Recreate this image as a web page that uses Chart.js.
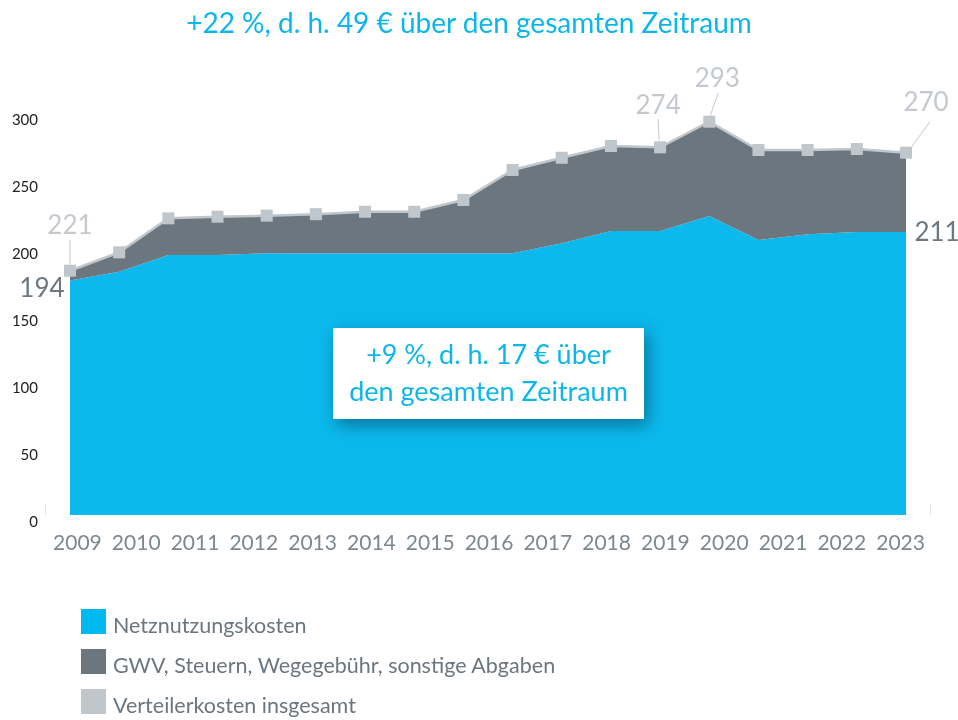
<!DOCTYPE html>
<html>
<head>
<meta charset="utf-8">
<script src="https://cdn.jsdelivr.net/npm/chart.js@4"></script>
<style>
  html, body { margin: 0; padding: 0; background: #fff; }
  #wrap { position: relative; width: 958px; height: 720px; font-family: Lato, "Noto Sans", sans-serif; }
  #c { position: absolute; left: 0; top: 0; }
  #title { position: absolute; left: 0; width: 938px; top: 5px; text-align: center; color: #0db6ea; font-size: 28px; }
  #box { position: absolute; left: 333px; top: 328px; width: 311px; height: 91px; background: #fff;
         box-shadow: 4px 6px 16px rgba(0,60,90,0.55); color: #0db6ea; font-size: 27px; text-align: center;
         line-height: 37px; padding-top: 7px; box-sizing: border-box; white-space: nowrap; }
  .lg { position: absolute; left: 81px; height: 25px; }
  .lg span.sw { position: absolute; left: 0; top: 0; width: 25px; height: 25px; }
  .lg span.tx { position: absolute; left: 32px; top: 3px; white-space: nowrap; font-size: 21.5px; color: #6b767e; }
</style>
</head>
<body>
<div id="wrap">
  <canvas id="c" width="958" height="720"></canvas>
  <div id="title">+22 %, d. h. 49 € über den gesamten Zeitraum</div>
  <div id="box">+9 %, d. h. 17 € über<br>den gesamten Zeitraum</div>
  <div class="lg" style="top:609px"><span class="sw" style="background:#00b9ee"></span><span class="tx">Netznutzungskosten</span></div>
  <div class="lg" style="top:649px"><span class="sw" style="background:#6b767e"></span><span class="tx">GWV, Steuern, Wegegebühr, sonstige Abgaben</span></div>
  <div class="lg" style="top:689px"><span class="sw" style="background:#bfc6cc"></span><span class="tx">Verteilerkosten insgesamt</span></div>
</div>
<script>
// Year tick labels
const years = ['2009','2010','2011','2012','2013','2014','2015','2016','2017','2018','2019','2020','2021','2022','2023'];
// Data points (18 observations across the period)
const pointIndex = [0,1,2,3,4,5,6,7,8,9,10,11,12,13,14,15,16,17];
const netznutzung = [175, 181.6, 194, 194, 195.3, 195.3, 195.3, 195.3, 195.3, 195.3, 202.8, 211.9, 211.9, 223.1, 205.2, 209.5, 211.2, 211.2];
const verteilerGesamt = [182.3, 196, 221.4, 222.6, 223.4, 224.5, 226.3, 226.3, 235.1, 257.5, 266.6, 275.4, 274.4, 293.5, 272.4, 272.4, 273.1, 270.4];
const yTicks = [0, 50, 100, 150, 200, 250, 300];
// Annotated values
const annotations = [
  { ds: 2, i: 0,  text: '221', color: '#c3c9ce', dx: 0,   dy: -45, lead: [0, -31, 0, -6] },
  { ds: 0, i: 0,  text: '194', color: '#6c777f', dx: -28, dy: 8,   lead: null },
  { ds: 2, i: 12, text: '274', color: '#c3c9ce', dx: -2,  dy: -42, lead: [-2, -28, -1, -7] },
  { ds: 2, i: 13, text: '293', color: '#c3c9ce', dx: 8,   dy: -43, lead: [9, -29, 1, -6] },
  { ds: 2, i: 17, text: '270', color: '#c3c9ce', dx: 20,  dy: -50, lead: [24, -31, 5, -5] },
  { ds: 0, i: 17, text: '211', color: '#6c777f', dx: 31,  dy: 1,   lead: null }
];

const BLUE = '#0cb9ec', DARK = '#6b767e', LIGHT = '#bfc6cc';

const annPlugin = {
  id: 'ann',
  afterDatasetsDraw(chart) {
    const ctx = chart.ctx;
    const xs = chart.scales.xd, ys = chart.scales.y;
    ctx.save();
    // small edge marks of the axis
    ctx.strokeStyle = '#e3e6e8'; ctx.lineWidth = 1;
    [chart.chartArea.left - 3, chart.chartArea.right].forEach(x => {
      ctx.beginPath(); ctx.moveTo(x + 0.5, ys.getPixelForValue(0) - 11); ctx.lineTo(x + 0.5, ys.getPixelForValue(0)); ctx.stroke();
    });
    annotations.forEach(a => {
      const val = a.ds === 0 ? netznutzung[a.i] : verteilerGesamt[a.i];
      const px = xs.getPixelForValue(pointIndex[a.i]);
      const py = ys.getPixelForValue(val);
      if (a.lead) {
        ctx.strokeStyle = '#c3c9ce'; ctx.lineWidth = 1;
        ctx.beginPath();
        ctx.moveTo(px + a.lead[0], py + a.lead[1]);
        ctx.lineTo(px + a.lead[2], py + a.lead[3]);
        ctx.stroke();
      }
      ctx.fillStyle = a.color;
      ctx.font = '26px Lato, "Noto Sans", sans-serif';
      ctx.textAlign = 'center';
      ctx.textBaseline = 'middle';
      ctx.fillText(a.text, px + a.dx, py + a.dy);
    });
    ctx.restore();
  }
};

new Chart(document.getElementById('c'), {
  type: 'line',
  data: {
    datasets: [
      { label: 'Netznutzungskosten', data: pointIndex.map((x, k) => ({ x, y: netznutzung[k] })),
        xAxisID: 'xd', yAxisID: 'y', fill: 'origin', backgroundColor: BLUE, borderWidth: 0, pointRadius: 0, tension: 0, order: 3 },
      { label: 'GWV, Steuern, Wegegebühr, sonstige Abgaben', data: pointIndex.map((x, k) => ({ x, y: verteilerGesamt[k] })),
        xAxisID: 'xd', yAxisID: 'y', fill: '-1', backgroundColor: DARK, borderWidth: 0, pointRadius: 0, tension: 0, order: 2 },
      { label: 'Verteilerkosten insgesamt', data: pointIndex.map((x, k) => ({ x, y: verteilerGesamt[k] })),
        xAxisID: 'xd', yAxisID: 'y', fill: false, borderColor: LIGHT, borderWidth: 2.5, pointStyle: 'rect',
        pointRadius: 8.5, pointBackgroundColor: LIGHT, pointBorderWidth: 0, tension: 0, order: 1 }
    ]
  },
  options: {
    responsive: false,
    animation: false,
    layout: { padding: { top: 113, right: 28, bottom: 165, left: 0 } },
    plugins: { legend: { display: false }, tooltip: { enabled: false } },
    scales: {
      x: {
        type: 'category', labels: years, offset: true, position: 'bottom',
        grid: { display: false, drawTicks: false }, border: { display: false },
        ticks: { color: '#7d878e', font: { family: 'Lato, "Noto Sans", sans-serif', size: 21 }, padding: 16, maxRotation: 0, autoSkip: false },
        afterFit(s) { s.height = 40; }
      },
      xd: { type: 'linear', display: false, min: -0.447, max: 17.488 },
      y: {
        min: 0, max: 300, position: 'left',
        grid: { display: false, drawTicks: false }, border: { display: false },
        afterBuildTicks(s) { s.ticks = yTicks.map(v => ({ value: v })); },
        ticks: { color: '#222', font: { family: 'Lato, "Noto Sans", sans-serif', size: 15 }, padding: 10, labelOffset: 7 },
        afterFit(s) { s.width = 48; }
      }
    }
  },
  plugins: [annPlugin]
});
</script>
</body>
</html>
